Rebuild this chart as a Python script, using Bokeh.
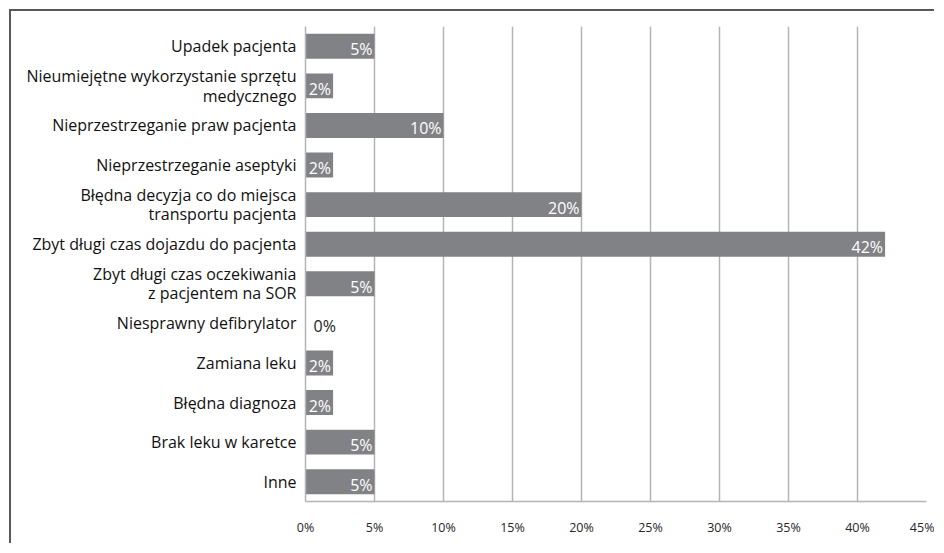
from bokeh.plotting import figure
from bokeh.models import ColumnDataSource, FactorRange, Range1d, FixedTicker, PrintfTickFormatter
from bokeh.embed import file_html
from bokeh.resources import INLINE
from bokeh.core.properties import value

categories = [
    "Upadek pacjenta",
    "Nieumiejętne wykorzystanie sprzętu\nmedycznego",
    "Nieprzestrzeganie praw pacjenta",
    "Nieprzestrzeganie aseptyki",
    "Błędna decyzja co do miejsca\ntransportu pacjenta",
    "Zbyt długi czas dojazdu do pacjenta",
    "Zbyt długi czas oczekiwania\nz pacjentem na SOR",
    "Niesprawny defibrylator",
    "Zamiana leku",
    "Błędna diagnoza",
    "Brak leku w karetce",
    "Inne",
]
values = [5, 2, 10, 2, 20, 42, 5, 0, 2, 2, 5, 5]
x_ticks = [0, 5, 10, 15, 20, 25, 30, 35, 40, 45]

FONT = "Open Sans"
BAR = "#818285"
GRID = "#b4b4b4"

labels = [f"{v}%" for v in values]
colors = ["white" if v > 0 else "#222222" for v in values]
aligns = ["right" if v > 0 else "left" for v in values]
offsets = [-2 if v > 0 else 8 for v in values]

src = ColumnDataSource(dict(cat=categories, val=values, lab=labels, col=colors,
                            al=aligns, off=offsets))

p = figure(width=925, height=534, output_backend="svg", toolbar_location=None,
           y_range=FactorRange(factors=list(reversed(categories)), range_padding=0),
           x_range=Range1d(0, 45),
           min_border_left=294, min_border_right=10, min_border_top=15, min_border_bottom=44)
p.styles = {"margin-left": "9px", "margin-top": "9px",
            "border-left": "2px solid #595959", "border-top": "2px solid #595959"}
p.outline_line_color = None
p.background_fill_color = "white"
p.border_fill_color = "white"

p.hbar(y="cat", right="val", left=0, height=0.63, source=src, color=BAR, line_color=None)
p.text(x="val", y="cat", text="lab", source=src, text_color="col", text_align="al",
       x_offset="off", y_offset=3, text_baseline="middle",
       text_font=value(FONT), text_font_size="16px")

p.xgrid.ticker = FixedTicker(ticks=x_ticks)
p.xgrid.grid_line_color = GRID
p.xgrid.grid_line_width = 1.5
p.ygrid.grid_line_color = None

xa = p.xaxis[0]
xa.ticker = FixedTicker(ticks=x_ticks)
xa.formatter = PrintfTickFormatter(format="%d%%")
xa.major_tick_line_color = None
xa.minor_tick_line_color = None
xa.axis_line_color = GRID
xa.axis_line_width = 1.5
xa.major_label_standoff = 11
xa.major_label_text_font = FONT
xa.major_label_text_font_size = "12.5px"
xa.major_label_text_color = "#262626"

ya = p.yaxis[0]
ya.major_tick_line_color = None
ya.minor_tick_line_color = None
ya.axis_line_color = GRID
ya.axis_line_width = 1.5
ya.major_label_standoff = 3
ya.major_label_text_font = FONT
ya.major_label_text_font_size = "16px"
ya.major_label_text_line_height = 0.88
ya.major_label_text_color = "#111111"

open("out.html", "w").write(file_html(p, INLINE))
